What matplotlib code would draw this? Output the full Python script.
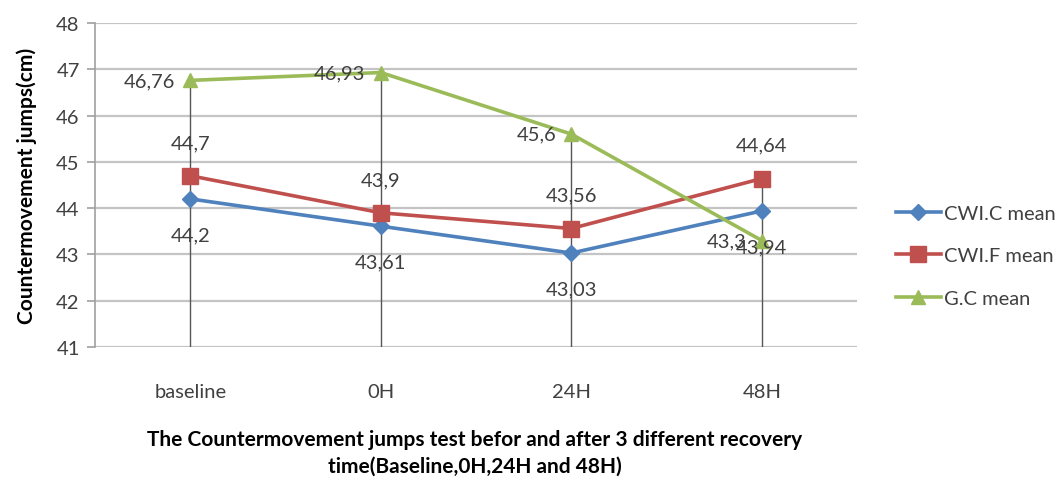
import matplotlib
matplotlib.use("Agg")
import matplotlib.pyplot as plt

plt.rcParams['font.family'] = ['Lato', 'DejaVu Sans']

categories = ["baseline", "0H", "24H", "48H"]
cwi_c = [44.2, 43.61, 43.03, 43.94]
cwi_f = [44.7, 43.9, 43.56, 44.64]
g_c = [46.76, 46.93, 45.6, 43.3]
y_ticks = [41, 42, 43, 44, 45, 46, 47, 48]

fig = plt.figure(figsize=(10.6, 4.81), dpi=100)
ax = fig.add_axes([0.0896, 0.2765, 0.719, 0.6736])

x = list(range(len(categories)))
ax.set_xlim(-0.5, len(categories) - 0.5)
ax.set_ylim(41, 48)

# horizontal gridlines
for yv in y_ticks:
    ax.axhline(yv, color='#c4c4c4', lw=1.6, zorder=0)

# drop lines
for i in x:
    top = max(cwi_c[i], cwi_f[i], g_c[i])
    ax.plot([i, i], [41, top], color='#555555', lw=1.0, zorder=1)

def fmt(v):
    s = ('%g' % v)
    return s.replace('.', ',')

ax.plot(x, cwi_c, color='#4F81BD', lw=2.6, marker='D', ms=8,
        label='CWI.C mean', zorder=3)
ax.plot(x, cwi_f, color='#C0504D', lw=2.6, marker='s', ms=11,
        label='CWI.F mean', zorder=3)
ax.plot(x, g_c, color='#9BBB59', lw=2.6, marker='^', ms=10,
        label='G.C mean', zorder=3)

lab_kw = dict(fontsize=14.5, color='#404040', zorder=4)
for i in x:
    ax.annotate(fmt(cwi_c[i]), (i, cwi_c[i]), xytext=(0, -26),
                textcoords='offset points', ha='center', va='center', **lab_kw)
    ax.annotate(fmt(cwi_f[i]), (i, cwi_f[i]), xytext=(0, 24),
                textcoords='offset points', ha='center', va='center', **lab_kw)
    ax.annotate(fmt(g_c[i]), (i, g_c[i]), xytext=(-11, 0),
                textcoords='offset points', ha='right', va='center', **lab_kw)

for s in ['top', 'right', 'bottom']:
    ax.spines[s].set_visible(False)
ax.spines['left'].set_color('#a0a0a0')
ax.spines['left'].set_linewidth(1.2)

ax.set_xticks(x)
ax.set_xticklabels(categories)
ax.set_yticks(y_ticks)
ax.tick_params(axis='x', length=0, pad=26, labelsize=14.5, labelcolor='#404040')
ax.tick_params(axis='y', length=6, color='#a0a0a0', width=1.2, pad=5,
               labelsize=14.5, labelcolor='#404040')

ax.set_ylabel('Countermovement jumps(cm)', fontsize=15, fontweight='bold',
              labelpad=14)
fig.text(0.448, 0.058, 'The Countermovement jumps test befor and after 3 different recovery\n'
         'time(Baseline,0H,24H and 48H)', ha='center', va='center',
         fontsize=15, fontweight='bold', linespacing=1.4)

leg = fig.legend(loc='center left', bbox_to_anchor=(0.838, 0.466), frameon=False,
                 fontsize=14.5, handlelength=2.2, handletextpad=0.15,
                 labelspacing=1.25, borderaxespad=0)
for t in leg.get_texts():
    t.set_color('#404040')

fig.savefig('out.png', dpi=100)
